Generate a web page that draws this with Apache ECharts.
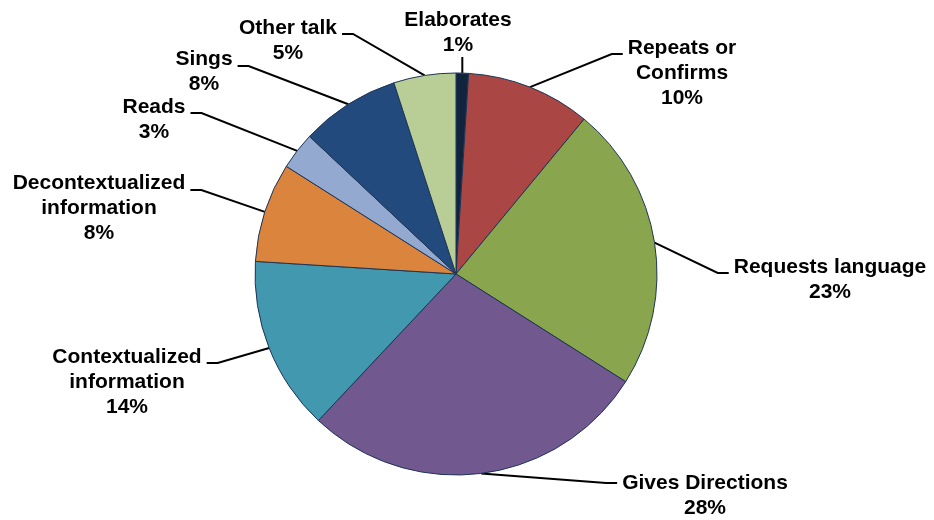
<!DOCTYPE html>
<html>
<head>
<meta charset="utf-8">
<script src="https://cdn.jsdelivr.net/npm/echarts@6/dist/echarts.min.js"></script>
<style>
  html, body { margin: 0; padding: 0; background: #ffffff; }
  #chart { width: 934px; height: 520px; }
</style>
</head>
<body>
<div id="chart"></div>
<script>
// Share of adult talk by type (percent of all coded utterances)
const categories = [
  'Elaborates',
  'Repeats or\nConfirms',
  'Requests language',
  'Gives Directions',
  'Contextualized\ninformation',
  'Decontextualized\ninformation',
  'Reads',
  'Sings',
  'Other talk'
];
const shares = [1, 10, 23, 28, 14, 8, 3, 8, 5];
const sliceColors = [
  '#10243E', '#AA4643', '#89A54E', '#71588F', '#4198AF',
  '#DB843D', '#93A9CF', '#234A7C', '#B9CD96'
];

// Callout placement: [text centre x, first-line centre y, hook offset y, side]
// side: 'up' = leader goes straight up, 'r' = text right of leader, 'l' = text left of leader
const calloutSpots = [
  [458, 20, 0, 'up'],
  [682, 48, 6, 'r'],
  [830, 267, 6, 'r'],
  [705, 483, 0, 'r'],
  [127, 357, 6, 'l'],
  [99, 183, 7, 'l'],
  [154, 107, 6, 'l'],
  [204, 59, 7, 'l'],
  [288, 28, 6, 'l']
];

const LINE_H = 25;
const HOOK = 11;
const GAP = 5;

const chart = echarts.init(document.getElementById('chart'), null, { renderer: 'canvas' });

chart.setOption({
  backgroundColor: '#ffffff',
  animation: false,
  series: [{
    type: 'pie',
    center: [456, 274],
    radius: 201,
    startAngle: 90,
    clockwise: true,
    avoidLabelOverlap: false,
    emphasis: { disabled: true },
    itemStyle: { borderColor: '#1E3556', borderWidth: 1 },
    label: {
      show: true,
      position: 'outside',
      formatter: p => p.name + '\n' + p.value + '%',
      fontFamily: '"Liberation Sans", Arial, sans-serif',
      fontWeight: 'bold',
      fontSize: 21,
      lineHeight: LINE_H,
      color: '#000000',
      align: 'center'
    },
    labelLine: {
      show: true,
      smooth: false,
      lineStyle: { color: '#000000', width: 2 }
    },
    labelLayout: function (params) {
      const spot = calloutSpots[params.dataIndex];
      const cx = spot[0], y0 = spot[1], dy = spot[2], side = spot[3];
      const w = params.labelRect.width;
      const start = params.labelLinePoints ? params.labelLinePoints[0] : null;
      const out = {
        x: cx,
        y: y0 - LINE_H / 2,
        align: 'center',
        verticalAlign: 'top'
      };
      if (start) {
        if (side === 'up') {
          const topY = y0 + LINE_H + 12;
          out.labelLinePoints = [start, [start[0], topY]];
        } else if (side === 'r') {
          const endX = cx - w / 2 - GAP;
          const hy = y0 + dy;
          out.labelLinePoints = [start, [endX - HOOK, hy], [endX, hy]];
        } else {
          const endX = cx + w / 2 + GAP;
          const hy = y0 + dy;
          out.labelLinePoints = [start, [endX + HOOK, hy], [endX, hy]];
        }
      }
      return out;
    },
    data: categories.map((name, i) => ({
      name: name,
      value: shares[i],
      itemStyle: { color: sliceColors[i] }
    }))
  }]
});
</script>
</body>
</html>
